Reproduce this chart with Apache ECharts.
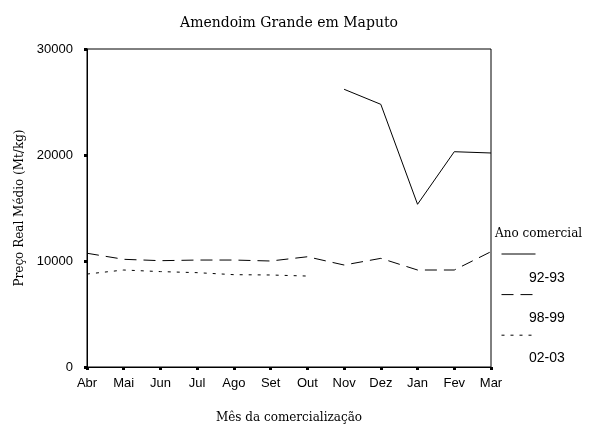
<!DOCTYPE html>
<html>
<head>
<meta charset="utf-8">
<script src="https://cdn.jsdelivr.net/npm/echarts@6/dist/echarts.min.js"></script>
<style>
  html, body { margin: 0; padding: 0; background: #fff; }
  #chart { width: 599px; height: 432px; }
</style>
</head>
<body>
<div id="chart"></div>
<script>
// meses da campanha comercial
const months = ['Abr', 'Mai', 'Jun', 'Jul', 'Ago', 'Set', 'Out', 'Nov', 'Dez', 'Jan', 'Fev', 'Mar'];
const seriesNames = ['92-93', '98-99', '02-03'];
// preço real médio (Mt/kg)
const price9293 = [null, null, null, null, null, null, null, 26200, 24780, 15350, 20310, 20190];
const price9899 = [10730, 10160, 10030, 10090, 10090, 10000, 10400, 9620, 10250, 9150, 9150, 10880];
const price0203 = [8770, 9150, 9000, 8900, 8710, 8680, 8580, null, null, null, null, null];

const serif = 'DejaVu Serif';
const sans = 'Liberation Sans';

const chart = echarts.init(document.getElementById('chart'));

function lineSeries(name, data, dash) {
  return {
    name: name,
    type: 'line',
    data: data,
    symbol: 'none',
    connectNulls: false,
    lineStyle: { color: '#000', width: 1, type: dash },
    itemStyle: { color: '#000' },
    animation: false
  };
}

chart.setOption({
  backgroundColor: '#fff',
  animation: false,
  title: {
    text: 'Amendoim Grande em Maputo',
    left: 284,
    textAlign: 'center',
    top: 11,
    textStyle: { fontFamily: serif, fontSize: 14, fontWeight: 'normal', color: '#000' }
  },
  grid: {
    left: 87, right: 108, top: 49, bottom: 65,
    show: true, borderColor: '#000', borderWidth: 1, backgroundColor: 'transparent'
  },
  legend: [
    {
      // linhas da legenda
      data: seriesNames,
      orient: 'vertical',
      left: 496,
      top: 242,
      itemWidth: 34,
      itemHeight: 14,
      itemGap: 28,
      formatter: () => '',
      selectedMode: false,
      itemStyle: { opacity: 0 },
      lineStyle: { width: 1 },
      textStyle: { fontSize: 1 }
    },
    {
      // rótulos da legenda
      data: seriesNames,
      orient: 'vertical',
      left: 519,
      top: 263,
      itemWidth: 0,
      itemHeight: 20,
      itemGap: 23,
      icon: 'none',
      selectedMode: false,
      textStyle: { fontFamily: sans, fontSize: 14, color: '#000' }
    }
  ],
  graphic: [
    {
      type: 'text',
      left: 495,
      top: 228,
      style: { text: 'Ano comercial', font: '12px "DejaVu Serif"', fill: '#000' }
    }
  ],
  xAxis: {
    type: 'category',
    data: months,
    boundaryGap: false,
    name: 'Mês da comercialização',
    nameLocation: 'middle',
    nameGap: 45,
    nameTextStyle: { fontFamily: serif, fontSize: 12, color: '#000' },
    axisLine: { lineStyle: { color: '#000', width: 1 } },
    axisTick: { length: 3, lineStyle: { color: '#000', width: 3 } },
    axisLabel: { fontFamily: sans, fontSize: 13, color: '#000', margin: 10, interval: 0 },
    splitLine: { show: false }
  },
  yAxis: {
    type: 'value',
    min: 0,
    max: 30000,
    interval: 10000,
    name: 'Preço Real Médio (Mt/kg)',
    nameLocation: 'middle',
    nameGap: 61,
    nameTextStyle: { fontFamily: serif, fontSize: 12, color: '#000' },
    axisLine: { show: true, lineStyle: { color: '#000', width: 1 } },
    axisTick: { show: true, length: 3, lineStyle: { color: '#000', width: 3 } },
    axisLabel: { fontFamily: sans, fontSize: 13, color: '#000', margin: 14, formatter: v => String(v) },
    splitLine: { show: false }
  },
  series: [
    lineSeries('92-93', price9293, 'solid'),
    lineSeries('98-99', price9899, [12, 7]),
    lineSeries('02-03', price0203, [3, 6])
  ]
});
</script>
</body>
</html>
